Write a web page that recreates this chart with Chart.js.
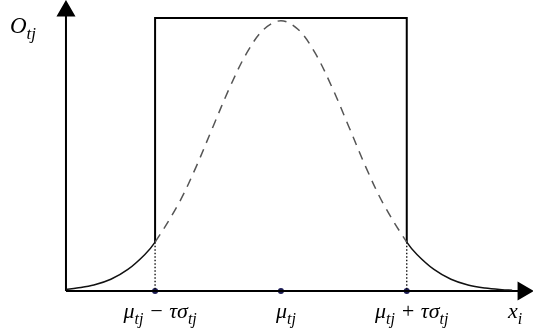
<!DOCTYPE html>
<html>
<head>
<meta charset="utf-8">
<script src="https://cdn.jsdelivr.net/npm/chart.js@4/dist/chart.umd.min.js"></script>
<style>
  html, body { margin: 0; padding: 0; background: #fff; }
  #wrap { width: 533px; height: 334px; }
  .pre { position: absolute; left: -999px; font: italic 20px "Liberation Serif"; }
</style>
</head>
<body>
<span class="pre">μτσ xO</span>
<div id="wrap"><canvas id="c" width="533" height="334"></canvas></div>
<script>
// x in units of sigma, mu = 0
const tau = 1.85;
const curveX = [-3.16, -3.0, -2.75, -2.5, -2.25, -2.0, -1.85, -1.5, -1.25, -1.0, -0.75, -0.5, -0.25, 0,
  0.25, 0.5, 0.75, 1.0, 1.25, 1.5, 1.85, 2.0, 2.25, 2.5, 2.75, 3.0, 3.25, 3.4];
const curveY = [0.006, 0.011, 0.022, 0.043, 0.079, 0.134, 0.179, 0.322, 0.453, 0.601, 0.747, 0.873, 0.959, 0.99,
  0.959, 0.873, 0.747, 0.601, 0.453, 0.322, 0.179, 0.134, 0.079, 0.043, 0.022, 0.011, 0.005, 0.003];
const boxHeight = 1.0;
const markX = [-tau, 0, tau];
const tickLabels = [['μ', 'tj', ' − τσ', 'tj'], ['μ', 'tj'], ['μ', 'tj', ' + τσ', 'tj']];
const yAxisX = -3.16;
const xAxisEnd = 3.56;
const yAxisEnd = 1.026;

const curve = curveX.map((x, i) => ({ x, y: curveY[i] }));
const edgeY = curveY[curveX.indexOf(-tau)];
const FONT = '"Liberation Serif", "Times New Roman", serif';

const inside = (ctx) => ctx.p0.parsed.x >= -tau - 1e-6 && ctx.p1.parsed.x <= tau + 1e-6;

function drawParts(ctx, parts, x, y, size, subSize, align) {
  const widths = parts.map((p, i) => {
    ctx.font = 'italic ' + (i % 2 ? subSize : size) + 'px ' + FONT;
    return ctx.measureText(p).width;
  });
  const total = widths.reduce((a, b) => a + b, 0);
  let cx = align === 'center' ? x - total / 2 : x;
  parts.forEach((p, i) => {
    ctx.font = 'italic ' + (i % 2 ? subSize : size) + 'px ' + FONT;
    ctx.fillText(p, cx, i % 2 ? y + size * 0.28 : y);
    cx += widths[i];
  });
}

const labelsPlugin = {
  id: 'labels',
  afterDatasetsDraw(chart) {
    const { ctx, scales } = chart;
    ctx.save();
    ctx.fillStyle = '#000';
    ctx.textBaseline = 'alphabetic';
    markX.forEach((v, i) => {
      drawParts(ctx, tickLabels[i], scales.x.getPixelForValue(v) + 5, 318, 22, 16, 'center');
    });
    drawParts(ctx, ['x', 'i'], 508, 318, 22, 16, 'left');
    drawParts(ctx, ['O', 'tj'], 10, 33, 23, 17, 'left');
    ctx.restore();
  }
};

function build() {
  new Chart(document.getElementById('c'), {
    type: 'scatter',
    data: {
      datasets: [
        {
          // gaussian, solid tails and dashed middle
          data: curve,
          showLine: true,
          borderColor: '#111',
          borderWidth: 1.5,
          pointRadius: 0,
          tension: 0.35,
          segment: {
            borderDash: ctx => inside(ctx) ? [9, 7] : undefined,
            borderColor: ctx => inside(ctx) ? '#555' : '#111'
          }
        },
        {
          // box
          data: [{ x: -tau, y: edgeY }, { x: -tau, y: boxHeight }, { x: tau, y: boxHeight }, { x: tau, y: edgeY }],
          showLine: true,
          borderColor: '#000',
          borderWidth: 2,
          pointRadius: 0
        },
        {
          data: [{ x: -tau, y: edgeY }, { x: -tau, y: 0 }],
          showLine: true, borderColor: '#000', borderWidth: 1.3, borderDash: [1.5, 2], pointRadius: 0
        },
        {
          data: [{ x: tau, y: edgeY }, { x: tau, y: 0 }],
          showLine: true, borderColor: '#000', borderWidth: 1.3, borderDash: [1.5, 2], pointRadius: 0
        },
        {
          // x axis
          data: [{ x: yAxisX, y: 0 }, { x: xAxisEnd, y: 0 }],
          showLine: true, borderColor: '#000', borderWidth: 2,
          pointStyle: 'triangle', pointRadius: [0, 9], pointRotation: 90,
          backgroundColor: '#000'
        },
        {
          // y axis
          data: [{ x: yAxisX, y: 0 }, { x: yAxisX, y: yAxisEnd }],
          showLine: true, borderColor: '#000', borderWidth: 2,
          pointStyle: 'triangle', pointRadius: [0, 9], pointRotation: 0,
          backgroundColor: '#000'
        },
        {
          data: markX.map(x => ({ x, y: 0 })),
          pointRadius: 3, pointBackgroundColor: '#1c1c55', pointBorderWidth: 0
        }
      ]
    },
    options: {
      responsive: false,
      animation: false,
      layout: { padding: 0, autoPadding: false },
      clip: false,
      plugins: { legend: { display: false }, tooltip: { enabled: false } },
      scales: {
        x: { type: 'linear', min: -4.13, max: 3.706, display: false },
        y: { type: 'linear', min: -0.1575, max: 1.066, display: false }
      }
    },
    plugins: [labelsPlugin]
  });
}

document.fonts.load('italic 20px "Liberation Serif"').then(build, build);
</script>
</body>
</html>
